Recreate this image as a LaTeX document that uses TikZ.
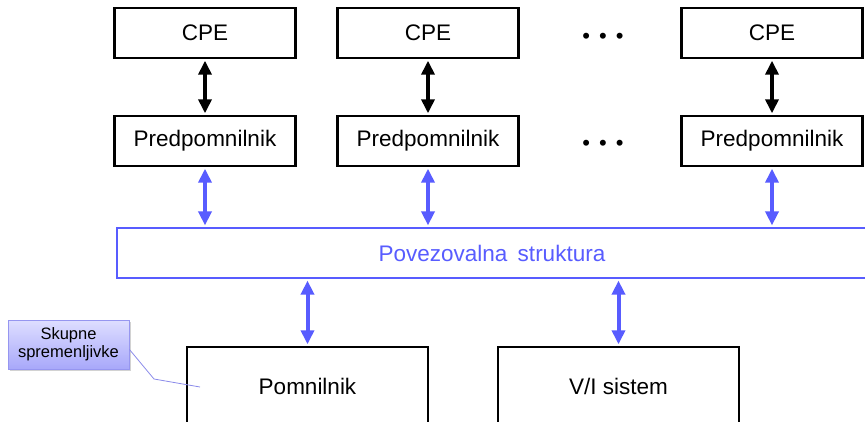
\documentclass[tikz,border=0pt]{standalone}
\usepackage{fontspec}
\setmainfont{Liberation Sans}
\usetikzlibrary{arrows.meta,shadows}
\definecolor{busblue}{RGB}{88,92,255}
\definecolor{notetop}{RGB}{222,222,255}
\definecolor{notebot}{RGB}{168,168,250}
\definecolor{noteedge}{RGB}{150,150,240}
\definecolor{leader}{RGB}{140,140,235}
\tikzset{
  unit/.style={draw=black, line width=2.4pt, fill=white, inner sep=0pt,
    minimum width=181pt, minimum height=50pt, font=\fontsize{22.5}{26}\selectfont},
  big/.style={unit, minimum width=241pt, minimum height=78pt},
  bus/.style={draw=busblue, line width=2.2pt, inner sep=0pt, text=busblue,
    minimum width=758pt, minimum height=50pt, font=\fontsize{22.5}{26}\selectfont},
  blackarr/.style={line width=3.8pt, black,
    {Triangle[width=13pt,length=14pt]}-{Triangle[width=13pt,length=14pt]}, shorten <=1.5pt, shorten >=1.5pt},
  bluearr/.style={line width=4pt, busblue,
    {Triangle[width=13pt,length=14pt]}-{Triangle[width=13pt,length=14pt]}, shorten <=1.5pt, shorten >=1.5pt},
  note/.style={draw=noteedge, line width=0.9pt, top color=notetop, bottom color=notebot,
    minimum width=121pt, minimum height=49pt, inner sep=0pt, align=center,
    font=\fontsize{16.5}{20}\selectfont,
    drop shadow={shadow xshift=1.5pt, shadow yshift=-1.5pt, fill=black!35, opacity=0.5}},
  dots/.style={font=\fontsize{22}{24}\selectfont, inner sep=0pt}
}
\begin{document}
\begin{tikzpicture}[x=1pt, y=-1pt]
  \useasboundingbox (0,0) rectangle (865,422);
  \clip (0,0) rectangle (865,422);
  \fill[white] (0,0) rectangle (865,422);

  % processors and their caches
  \node[unit] (cpe1) at (205,33) {CPE};
  \node[unit] (cpe2) at (428,33) {CPE};
  \node[unit] (cpe3) at (772,33) {CPE};
  \node[unit] (pp1) at (205,141) {Predpomnilnik};
  \node[unit] (pp2) at (428,141) {Predpomnilnik};
  \node[unit] (pp3) at (772,141) {Predpomnilnik};

  \node[dots] (d1) at (603,38) {•\hspace{9pt}•\hspace{9pt}•};
  \node[dots] (d2) at (603,145) {•\hspace{9pt}•\hspace{9pt}•};

  % interconnect
  \node[bus] (bus) at (496,253) {\hspace{-8pt}Povezovalna\hspace{4pt} struktura};

  % shared resources
  \node[big] (mem) at (307.5,386) {Pomnilnik};
  \node[big] (io) at (618.5,386) {V/I sistem};

  % links
  \foreach \i in {1,2,3} {
    \draw[blackarr] (cpe\i.south) -- (pp\i.north);
    \draw[bluearr] (pp\i.south) -- (pp\i.south |- bus.north);
  }
  \draw[bluearr] (mem.north |- bus.south) -- (mem.north);
  \draw[bluearr] (io.north |- bus.south) -- (io.north);

  % annotation
  \node[note] (skupne) at (68.5,344.5) {Skupne\\[-2pt]spremenljivke};
  \coordinate (bend) at (154,379);
  \coordinate (tip) at (200,387);
  \draw[leader, line width=0.8pt] (skupne.east) ++(0,5) -- (bend) -- (tip);
\end{tikzpicture}
\end{document}
